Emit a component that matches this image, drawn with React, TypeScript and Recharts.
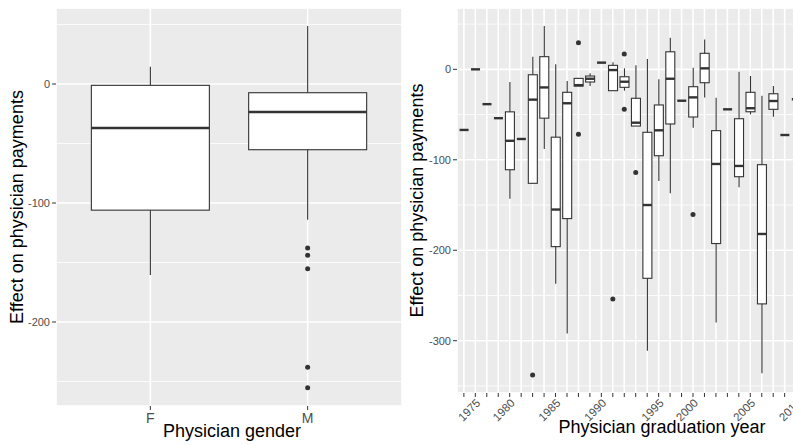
import React from 'react';
import { ComposedChart, Bar, Scatter, XAxis, YAxis, CartesianGrid } from 'recharts';

const FONT = '"Liberation Sans", Arial, Helvetica, sans-serif';

// left panel: effect by physician gender
const genders = ['F', 'M'];
const genderLow = [-160.5, -114];
const genderQ1 = [-106, -55.2];
const genderMedian = [-37, -23.5];
const genderQ3 = [-1.1, -7.3];
const genderHigh = [14.5, 48.7];
const genderOutliers: number[][] = [[], [-137.8, -144, -155.2, -238, -255.2]];

// right panel: effect by graduation year
const years = [
  '1974', '1975', '1977', '1978', '1980', '1981', '1982', '1983', '1985', '1986',
  '1987', '1988', '1990', '1991', '1992', '1993', '1994', '1995', '1996', '1998',
  '2000', '2001', '2002', '2003', '2004', '2005', '2006', '2007', '2008', '2010',
];
const yearLow = [
  -67, 0, -38.5, -54, -143, -77, -126, -88, -237, -292,
  -18.5, -18.5, 7.4, -23.6, -23.6, -62.7, -311, -123.4, -137, -34.7,
  -64.5, -31, -280, -44.2, -130.4, -49.7, -336, -52.4, -72.6, -33.1,
];
const yearQ1 = [
  -67, 0, -38.5, -54, -111, -77, -126, -54, -196, -165,
  -18.5, -14, 7.4, -23.6, -19.9, -62.7, -231, -95.5, -60.4, -34.7,
  -52.7, -14.8, -192.6, -44.2, -118.7, -46.9, -259.3, -44.2, -72.6, -33.1,
];
const yearMedian = [
  -67, 0, -38.5, -54, -79, -77, -33.5, -20, -155, -37.5,
  -17.5, -10.4, 7.4, -0.8, -13.7, -59, -150, -67.4, -10.4, -34.7,
  -31, 1.1, -104.6, -44.2, -106.8, -43, -182, -35, -72.6, -33.1,
];
const yearQ3 = [
  -67, 0, -38.5, -54, -47, -77, -6, 14, -75, -25.4,
  -10, -7.4, 7.4, 4.4, -8.2, -32, -69.6, -39.4, 19.4, -34.7,
  -19.2, 17.7, -67.8, -44.2, -54.6, -25.4, -105.4, -27, -72.6, -33.1,
];
const yearHigh = [
  -67, 0, -38.5, -54, -14, -77, 14, 48, 5.5, -13,
  -10, -4.4, 7.4, 7.7, 1.1, 4.4, 11.4, -11, 34.9, -34.7,
  1.8, 33.1, -31.4, -44.2, -2.6, -7.4, -29.1, -18.5, -72.6, -33.1,
];
const yearOutliers: number[][] = [
  [], [], [], [], [], [], [-338], [], [], [],
  [29.4, -71.8], [], [], [-254], [16.9, -44.2], [-114], [], [], [], [],
  [-160.4], [], [], [], [], [], [], [], [], [],
];

type Row = {
  cat: string;
  whisker: [number, number];
  box: [number, number];
  med: [number, number];
  out: number[];
};

function buildRows(
  cats: string[], lo: number[], q1: number[], med: number[], q3: number[], hi: number[], out: number[][],
): Row[] {
  return cats.map((cat, i) => ({
    cat,
    whisker: [lo[i], hi[i]],
    box: [q1[i], q3[i]],
    med: [med[i], med[i]],
    out: out[i],
  }));
}

const genderRows = buildRows(genders, genderLow, genderQ1, genderMedian, genderQ3, genderHigh, genderOutliers);
const yearRows = buildRows(years, yearLow, yearQ1, yearMedian, yearQ3, yearHigh, yearOutliers);

const INK = '#333333';

const WhiskerShape = (p: any) => {
  const h = Math.abs(p.height);
  if (!h) return <g />;
  const cx = p.x + p.width / 2;
  const top = Math.min(p.y, p.y + p.height);
  return <line x1={cx} x2={cx} y1={top} y2={top + h} stroke={INK} strokeWidth={1.1} />;
};

const BoxShape = (p: any) => {
  const h = Math.abs(p.height);
  if (h < 0.5) return <g />;
  const top = Math.min(p.y, p.y + p.height);
  return <rect x={p.x} y={top} width={p.width} height={h} fill="#fff" stroke={INK} strokeWidth={1.1} />;
};

const MedianShape = (p: any) => (
  <line x1={p.x} x2={p.x + p.width} y1={p.y} y2={p.y} stroke={INK} strokeWidth={2.4} />
);

const outlierShape = (k: number) => (p: any) => {
  if (p.payload?.out?.[k] == null || p.cy == null || isNaN(p.cy)) return <g />;
  return <circle cx={p.cx} cy={p.cy} r={2.5} fill={INK} />;
};

// only every fifth year is labelled, as in the original figure
const YearTick = (p: any) => {
  const v = String(p.payload.value);
  const label = Number(v) % 5 === 0 ? v : '';
  return (
    <g transform={`translate(${p.x},${p.y})`}>
      <text textAnchor="end" transform="rotate(-45)" dy="0.71em" fontSize={11.5} fill="#4D4D4D">
        {label}
      </text>
    </g>
  );
};

type PanelProps = {
  rows: Row[];
  width: number;
  yAxisWidth: number;
  xAxisHeight: number;
  domain: [number, number];
  ticks: number[];
  minorTicks: number[];
  pad: number;
  xTitle: string;
  xTitleDx: number;
  xTitleOffset: number;
  yTitleOffset: number;
  xTick: any;
  xTickMargin: number;
};

function BoxPanel(props: PanelProps) {
  const maxOut = Math.max(...props.rows.map((r) => r.out.length));
  const outIdx = Array.from({ length: maxOut }, (_, k) => k);
  return (
    <ComposedChart
      width={props.width}
      height={445}
      data={props.rows}
      margin={{ top: 8, right: 0, bottom: 0, left: 0 }}
      barCategoryGap="12.5%"
    >
      <CartesianGrid
        xAxisId="box"
        yAxisId="minor"
        vertical={false}
        fill="#EBEBEB"
        stroke="#fff"
        strokeWidth={0.8}
      />
      <CartesianGrid xAxisId="box" yAxisId="main" stroke="#fff" strokeWidth={1.6} />
      <XAxis
        xAxisId="box"
        dataKey="cat"
        type="category"
        interval={0}
        padding={{ left: props.pad, right: props.pad }}
        height={props.xAxisHeight}
        axisLine={false}
        tickSize={4}
        tickMargin={props.xTickMargin}
        tickLine={{ stroke: INK }}
        tick={props.xTick}
        label={{
          value: props.xTitle,
          position: 'insideBottom',
          offset: props.xTitleOffset,
          dx: props.xTitleDx,
          fill: '#000',
          fontSize: 18,
        }}
      />
      <XAxis xAxisId="whisker" dataKey="cat" type="category" hide padding={{ left: props.pad, right: props.pad }} />
      <XAxis xAxisId="med" dataKey="cat" type="category" hide padding={{ left: props.pad, right: props.pad }} />
      <YAxis
        yAxisId="main"
        type="number"
        domain={props.domain}
        ticks={props.ticks}
        allowDataOverflow
        width={props.yAxisWidth}
        axisLine={false}
        tickSize={4}
        tickMargin={2}
        tickLine={{ stroke: INK }}
        tick={{ fill: '#4D4D4D', fontSize: 11 }}
        label={{
          value: 'Effect on physician payments',
          angle: -90,
          position: 'insideLeft',
          offset: props.yTitleOffset,
          fill: '#000',
          fontSize: 18,
          style: { textAnchor: 'middle' },
        }}
      />
      <YAxis yAxisId="minor" type="number" hide domain={props.domain} ticks={props.minorTicks} allowDataOverflow />
      <Bar xAxisId="whisker" yAxisId="main" dataKey="whisker" shape={WhiskerShape} isAnimationActive={false} />
      <Bar xAxisId="box" yAxisId="main" dataKey="box" shape={BoxShape} isAnimationActive={false} />
      <Bar xAxisId="med" yAxisId="main" dataKey="med" shape={MedianShape} isAnimationActive={false} />
      {outIdx.map((k) => (
        <Scatter
          key={k}
          xAxisId="box"
          yAxisId="main"
          dataKey={(r: Row) => (r.out[k] == null ? null : r.out[k])}
          shape={outlierShape(k)}
          isAnimationActive={false}
        />
      ))}
    </ComposedChart>
  );
}

export default function App() {
  return (
    <div
      style={{
        position: 'absolute',
        left: 0,
        top: 0,
        width: 793,
        height: 445,
        overflow: 'hidden',
        background: '#fff',
        fontFamily: FONT,
        display: 'flex',
      }}
    >
      <div style={{ flex: 'none' }}>
        <BoxPanel
          rows={genderRows}
          width={402}
          yAxisWidth={56}
          xAxisHeight={39}
          domain={[-270.6, 63.9]}
          ticks={[-200, -100, 0]}
          minorTicks={[-250, -150, -50, 50]}
          pad={15.7}
          xTitle="Physician gender"
          xTitleDx={3}
          xTitleOffset={8}
          yTitleOffset={17}
          xTick={{ fill: '#4D4D4D', fontSize: 14 }}
          xTickMargin={3}
        />
      </div>
      <div style={{ flex: 'none' }}>
        <BoxPanel
          rows={yearRows}
          width={401}
          yAxisWidth={55}
          xAxisHeight={52}
          domain={[-357.8, 67.8]}
          ticks={[-300, -200, -100, 0]}
          minorTicks={[-350, -250, -150, -50, 50]}
          pad={1.15}
          xTitle="Physician graduation year"
          xTitleDx={32}
          xTitleOffset={12}
          yTitleOffset={15}
          xTick={<YearTick />}
          xTickMargin={1}
        />
      </div>
    </div>
  );
}
